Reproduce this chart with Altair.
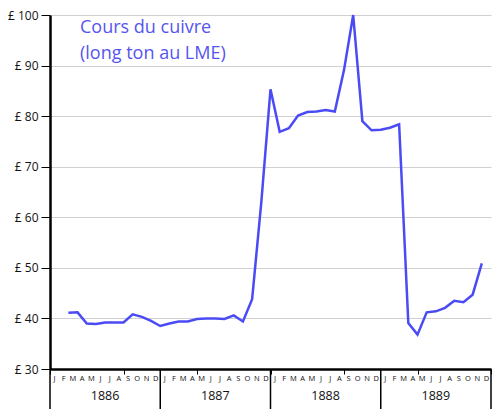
import altair as alt
import pandas as pd

# Monthly copper price (GBP per long ton, LME), first value at month index 2 (start of March 1886)
price = [
    41.1, 41.2, 39.0, 38.9, 39.2, 39.2, 39.2, 40.8, 40.3, 39.5, 38.5,
    39.0, 39.4, 39.4, 39.9, 40.0, 40.0, 39.9, 40.6, 39.4, 43.8, 63.0,
    85.3, 76.9, 77.6, 80.1, 80.8, 80.9, 81.2, 80.9, 89.1, 100.0, 79.0, 77.2,
    77.3, 77.7, 78.4, 39.1, 36.8, 41.2, 41.4, 42.1, 43.5, 43.2, 44.7, 50.9,
]
first_index = 2
month_letters = ["J", "F", "M", "A", "M", "J", "J", "A", "S", "O", "N", "D"]
years = ["1886", "1887", "1888", "1889"]
title_lines = ["Cours du cuivre", "(long ton au LME)"]
y_ticks = [30, 40, 50, 60, 70, 80, 90, 100]

W, H = 441, 354
FONT = "Open Sans"
LINE_COLOR = "#4b4bf5"

df = pd.DataFrame({"m": [first_index + i for i in range(len(price))], "price": price})
months_df = pd.DataFrame({
    "m": [yi * 12 + i + 0.5 for yi in range(len(years)) for i in range(12)],
    "letter": month_letters * len(years),
})
years_df = pd.DataFrame({"m": [yi * 12 + 6 for yi in range(len(years))], "year": years})
sep_df = pd.DataFrame({"m": [yi * 12 for yi in range(len(years) + 1)]})
title_df = pd.DataFrame({"t": title_lines})

xscale = alt.Scale(domain=[0, 48], nice=False, zero=False)
yscale = alt.Scale(domain=[30, 100], nice=False, zero=False)

line = alt.Chart(df).mark_line(color=LINE_COLOR, strokeWidth=2.5).encode(
    x=alt.X("m:Q", scale=xscale, axis=alt.Axis(
        values=list(range(49)), labels=False, title=None, grid=False,
        tickSize=5, tickColor="black", tickWidth=1,
        domainColor="black", domainWidth=2.5)),
    y=alt.Y("price:Q", scale=yscale, axis=alt.Axis(
        values=y_ticks, labelExpr="'£ ' + datum.value", title=None,
        grid=True, gridColor="#d0d0d0", gridWidth=1,
        tickSize=9, tickColor="black", tickWidth=1,
        domainColor="black", domainWidth=2.5,
        labelFont=FONT, labelFontSize=12, labelColor="#111", labelPadding=3)),
)

month_text = alt.Chart(months_df).mark_text(
    font=FONT, fontSize=7.5, baseline="middle", align="center", color="#111"
).encode(x=alt.X("m:Q", scale=xscale), y=alt.value(H + 9.5), text="letter:N")

year_text = alt.Chart(years_df).mark_text(
    font=FONT, fontSize=12.5, baseline="alphabetic", align="center", color="#111"
).encode(x=alt.X("m:Q", scale=xscale), y=alt.value(H + 31), text="year:N")

seps = alt.Chart(sep_df).mark_rule(color="black", strokeWidth=1.5).encode(
    x=alt.X("m:Q", scale=xscale), y=alt.value(H), y2=alt.value(H + 40)
)

title1 = alt.Chart(title_df.iloc[[0]]).mark_text(
    font=FONT, fontSize=18, align="left", baseline="alphabetic", color="#5555f0"
).encode(x=alt.value(30), y=alt.value(18), text="t:N")
title2 = alt.Chart(title_df.iloc[[1]]).mark_text(
    font=FONT, fontSize=18, align="left", baseline="alphabetic", color="#5555f0"
).encode(x=alt.value(30), y=alt.value(43.5), text="t:N")

chart = alt.layer(line, month_text, year_text, seps, title1, title2).properties(
    width=W, height=H,
    autosize=alt.AutoSizeParams(type="none"),
    padding={"left": 42, "top": 7, "right": 1, "bottom": 40},
).configure_view(stroke=None)

chart.save("out.html", embed_options={"renderer": "svg", "actions": False})
